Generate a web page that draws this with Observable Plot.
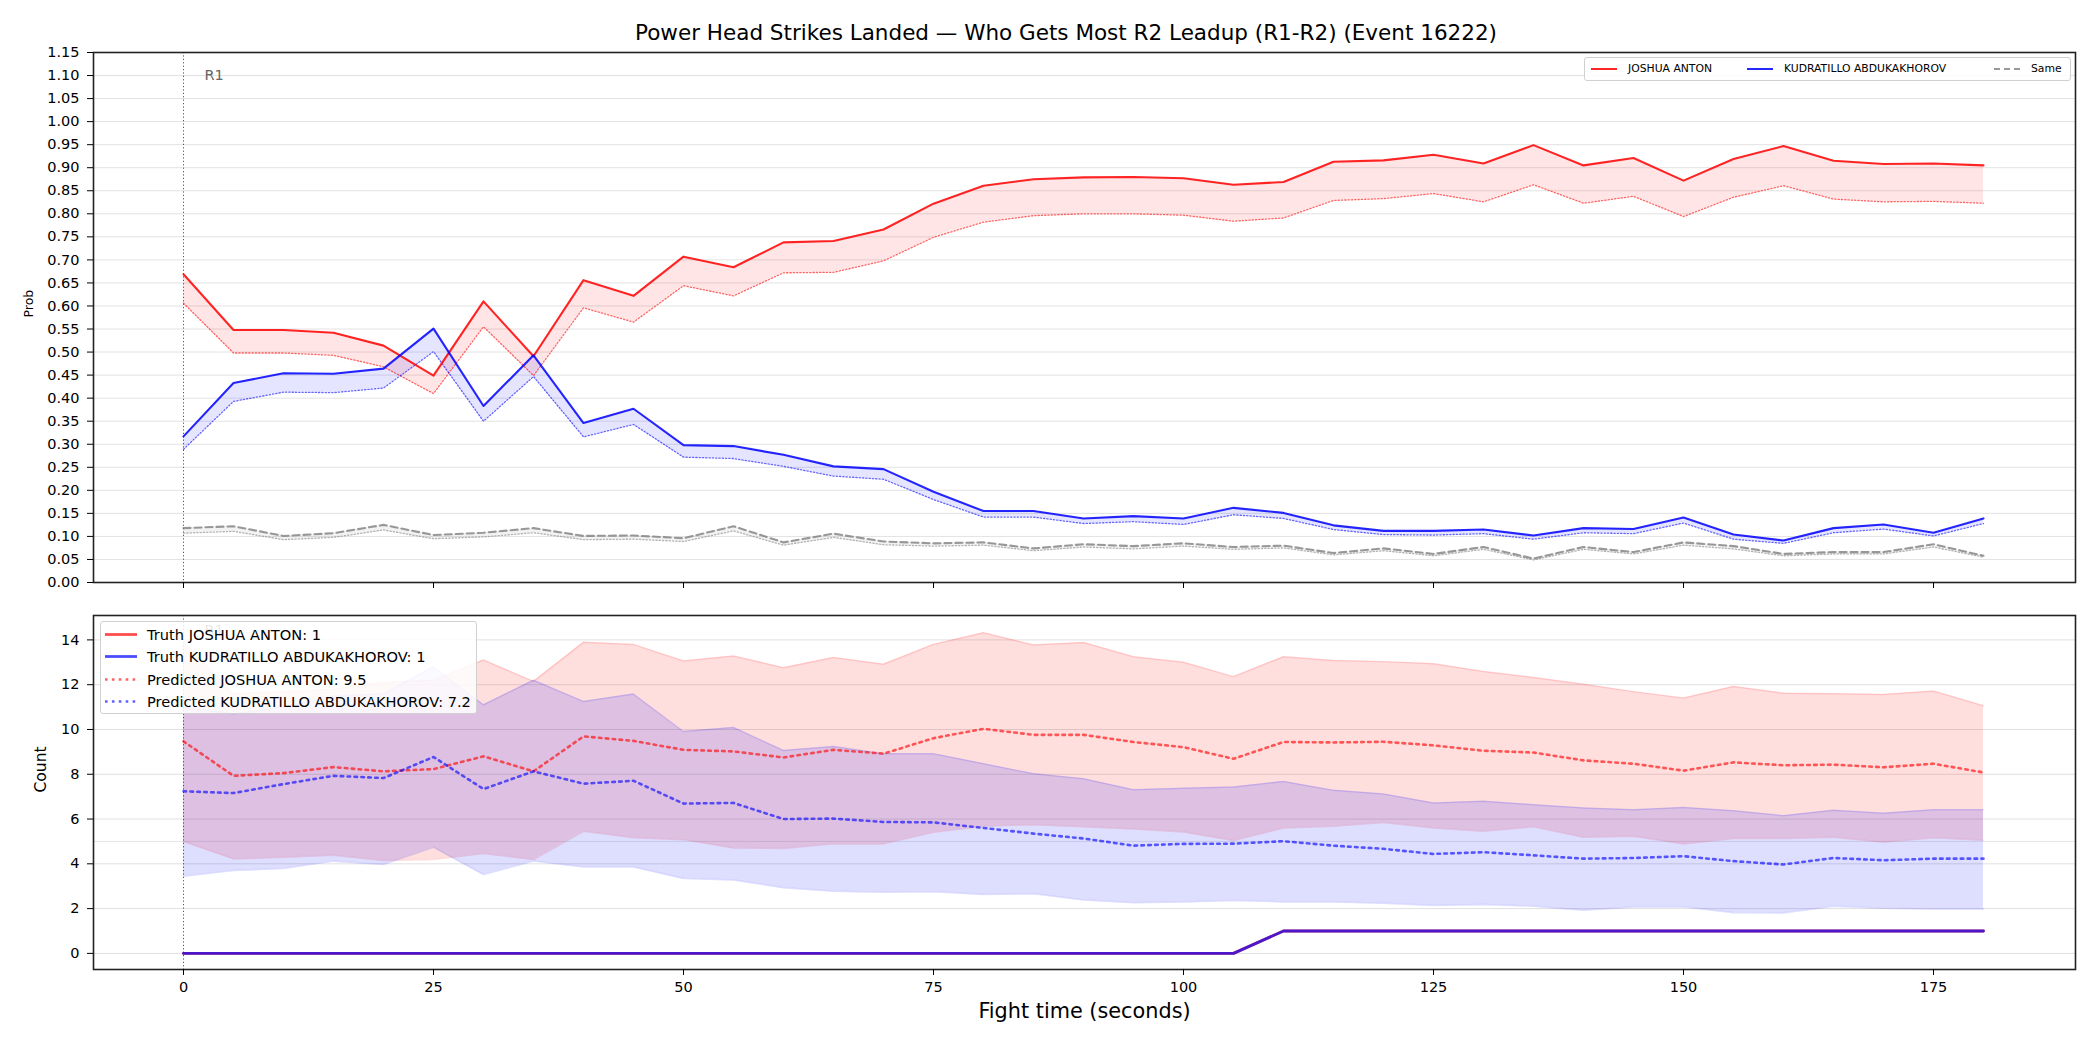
<!DOCTYPE html>
<html>
<head>
<meta charset="utf-8">
<script src="https://cdn.jsdelivr.net/npm/d3@7"></script>
<script src="https://cdn.jsdelivr.net/npm/@observablehq/plot@0.6"></script>
<style>
  html, body { margin: 0; padding: 0; background: #fff; }
  #wrap { position: relative; width: 2100px; height: 1050px; font-family: "DejaVu Sans", sans-serif; color: #000; overflow: hidden; }
  #title { position: absolute; left: 566px; width: 1000px; top: 20px; text-align: center; font-size: 21.5px; white-space: nowrap; }
  .panel { position: absolute; left: 0; }
  .legend { position: absolute; background: rgba(255,255,255,0.85); border: 1.5px solid #d0d0d0; border-radius: 3px; box-sizing: border-box; }
  .item { position: absolute; white-space: nowrap; }
  .item svg { position: absolute; left: 0; top: 0; }
</style>
</head>
<body>
<div id="wrap">
  <div id="title">Power Head Strikes Landed — Who Gets Most R2 Leadup (R1-R2) (Event 16222)</div>
  <div id="topPanel" class="panel" style="top:40px"></div>
  <div id="bottomPanel" class="panel" style="top:600px"></div>
</div>
<script>
// ---------- data ----------
const times = [0,5,10,15,20,25,30,35,40,45,50,55,60,65,70,75,80,85,90,95,100,105,110,115,120,125,130,135,140,145,150,155,160,165,170,175,180];

const nameA = "JOSHUA ANTON";
const nameB = "KUDRATILLO ABDUKAKHOROV";

// top panel: probabilities (truth-based solid, predicted dotted)
const probA = [0.669,0.548,0.548,0.542,0.514,0.449,0.610,0.491,0.656,0.622,0.707,0.684,0.738,0.741,0.766,0.822,0.861,0.875,0.879,0.880,0.877,0.863,0.869,0.913,0.916,0.928,0.909,0.949,0.905,0.921,0.872,0.919,0.947,0.915,0.908,0.909,0.905];
const predProbA = [0.606,0.498,0.498,0.493,0.468,0.410,0.555,0.449,0.596,0.565,0.644,0.622,0.672,0.673,0.698,0.749,0.782,0.796,0.800,0.800,0.797,0.784,0.791,0.829,0.833,0.844,0.826,0.863,0.823,0.838,0.794,0.836,0.861,0.832,0.826,0.827,0.823];
const probB = [0.317,0.433,0.454,0.453,0.464,0.551,0.383,0.493,0.346,0.377,0.298,0.296,0.277,0.252,0.246,0.197,0.155,0.155,0.139,0.144,0.139,0.162,0.151,0.124,0.112,0.112,0.115,0.102,0.118,0.116,0.141,0.104,0.091,0.118,0.126,0.108,0.139];
const predProbB = [0.289,0.393,0.413,0.412,0.422,0.501,0.350,0.447,0.316,0.343,0.272,0.269,0.252,0.231,0.224,0.180,0.142,0.142,0.128,0.132,0.126,0.147,0.139,0.115,0.104,0.103,0.106,0.094,0.108,0.106,0.129,0.094,0.085,0.108,0.116,0.101,0.128];
const probSame = [0.118,0.122,0.101,0.107,0.125,0.103,0.108,0.118,0.101,0.102,0.096,0.122,0.087,0.106,0.089,0.085,0.087,0.074,0.083,0.079,0.085,0.077,0.080,0.064,0.074,0.062,0.077,0.052,0.077,0.066,0.087,0.079,0.062,0.066,0.066,0.083,0.058];
const predProbSame = [0.107,0.111,0.093,0.098,0.114,0.095,0.099,0.108,0.093,0.094,0.089,0.112,0.081,0.098,0.082,0.079,0.081,0.069,0.077,0.073,0.079,0.072,0.075,0.060,0.069,0.058,0.072,0.049,0.072,0.062,0.081,0.073,0.058,0.062,0.062,0.077,0.055];

// bottom panel: counts
const truthA = [0,0,0,0,0,0,0,0,0,0,0,0,0,0,0,0,0,0,0,0,0,0,1,1,1,1,1,1,1,1,1,1,1,1,1,1,1];
const truthB = [0,0,0,0,0,0,0,0,0,0,0,0,0,0,0,0,0,0,0,0,0,0,1,1,1,1,1,1,1,1,1,1,1,1,1,1,1];
const predA = [9.47,7.93,8.05,8.32,8.13,8.23,8.80,8.13,9.69,9.49,9.09,9.02,8.75,9.09,8.92,9.61,10.03,9.76,9.76,9.44,9.21,8.69,9.44,9.42,9.45,9.29,9.05,8.97,8.62,8.47,8.16,8.53,8.40,8.43,8.31,8.47,8.08];
const hiA = [13.9,11.6,11.7,11.8,12.1,12.2,13.1,12.15,13.89,13.80,13.06,13.28,12.76,13.21,12.91,13.80,14.32,13.77,13.88,13.25,13.0,12.36,13.25,13.08,13.03,12.94,12.59,12.32,12.02,11.69,11.40,11.92,11.62,11.60,11.56,11.72,11.06];
const loA = [5.0,4.22,4.29,4.38,4.15,4.19,4.46,4.19,5.45,5.16,5.08,4.71,4.68,4.90,4.89,5.41,5.68,5.75,5.65,5.56,5.42,5.04,5.60,5.68,5.85,5.60,5.45,5.65,5.19,5.23,4.89,5.13,5.13,5.19,4.96,5.16,5.05];
const predB = [7.24,7.16,7.56,7.93,7.83,8.77,7.34,8.13,7.58,7.71,6.69,6.72,6.00,6.02,5.87,5.85,5.60,5.35,5.13,4.81,4.89,4.90,5.01,4.81,4.67,4.44,4.52,4.38,4.23,4.26,4.34,4.12,3.97,4.26,4.16,4.23,4.23];
const hiB = [11.0,10.7,11.0,11.5,11.6,12.8,11.1,12.2,11.25,11.58,9.91,10.09,9.06,9.24,8.92,8.92,8.47,8.02,7.80,7.31,7.38,7.43,7.68,7.28,7.12,6.72,6.79,6.64,6.49,6.42,6.52,6.37,6.15,6.39,6.26,6.42,6.42];
const loB = [3.45,3.70,3.79,4.12,3.97,4.74,3.52,4.12,3.86,3.86,3.34,3.28,2.93,2.78,2.73,2.75,2.63,2.66,2.38,2.26,2.30,2.36,2.30,2.30,2.24,2.14,2.18,2.11,1.93,2.07,2.08,1.81,1.80,2.11,2.01,1.98,1.98];

const legendTotals = {truthA: 1, truthB: 1, predA: 9.5, predB: 7.2};

// tick labels
const xTicks = [0,25,50,75,100,125,150,175];
const yTicksTop = [0,0.05,0.10,0.15,0.20,0.25,0.30,0.35,0.40,0.45,0.50,0.55,0.60,0.65,0.70,0.75,0.80,0.85,0.90,0.95,1.00,1.05,1.10,1.15];
const yTicksBottom = [0,2,4,6,8,10,12,14];
const refLine = [5];
const roundMarker = [{t: 0, label: "R1"}];

// ---------- tables ----------
const rows = times.map((t, i) => ({
  t, pA: probA[i], ppA: predProbA[i], pB: probB[i], ppB: predProbB[i], pS: probSame[i], ppS: predProbSame[i],
  tA: truthA[i], tB: truthB[i], cA: predA[i], hA: hiA[i], lA: loA[i], cB: predB[i], hB: hiB[i], lB: loB[i]
}));

const RED = "#ff0000", BLUE = "#0000ff", GRAY = "#808080";
const xDomain = [-9, 189.2];
const W = 2100;
const TICK_FS = 14.5;

// ---------- top panel ----------
const topChart = Plot.plot({
  width: W, height: 570,
  marginTop: 12, marginBottom: 28, marginLeft: 93, marginRight: 25,
  style: {fontFamily: "DejaVu Sans, sans-serif", fontSize: TICK_FS + "px", background: "transparent", color: "#000"},
  x: {domain: xDomain, label: null},
  y: {domain: [0, 1.15], label: null},
  marks: [
    Plot.gridY(yTicksTop, {stroke: "#e2e2e2", strokeOpacity: 1, strokeWidth: 1}),
    Plot.ruleX(roundMarker, {x: "t", stroke: "#555", strokeWidth: 1, strokeDasharray: "1.2,2.2"}),
    Plot.text(roundMarker, {x: "t", y: 1.10, text: "label", dx: 21, textAnchor: "start", fill: "#666", fontSize: 14.5}),
    Plot.areaY(rows, {x: "t", y1: "ppA", y2: "pA", fill: RED, fillOpacity: 0.1}),
    Plot.areaY(rows, {x: "t", y1: "ppB", y2: "pB", fill: BLUE, fillOpacity: 0.1}),
    Plot.areaY(rows, {x: "t", y1: "ppS", y2: "pS", fill: GRAY, fillOpacity: 0.1}),
    Plot.lineY(rows, {x: "t", y: "ppA", stroke: RED, strokeOpacity: 0.6, strokeWidth: 1.3, strokeDasharray: "1.3,2"}),
    Plot.lineY(rows, {x: "t", y: "ppB", stroke: BLUE, strokeOpacity: 0.6, strokeWidth: 1.3, strokeDasharray: "1.3,2"}),
    Plot.lineY(rows, {x: "t", y: "ppS", stroke: GRAY, strokeOpacity: 0.6, strokeWidth: 1.3, strokeDasharray: "1.3,2"}),
    Plot.lineY(rows, {x: "t", y: "pA", stroke: RED, strokeOpacity: 0.85, strokeWidth: 2.1}),
    Plot.lineY(rows, {x: "t", y: "pB", stroke: BLUE, strokeOpacity: 0.85, strokeWidth: 2.1}),
    Plot.lineY(rows, {x: "t", y: "pS", stroke: GRAY, strokeOpacity: 0.8, strokeWidth: 2.1, strokeDasharray: "7,4"}),
    Plot.frame({stroke: "#222", strokeWidth: 1.6}),
    Plot.axisY(yTicksTop, {tickFormat: d => d.toFixed(2), tickSize: 6, tickPadding: 8, fontSize: TICK_FS}),
    Plot.axisX(xTicks, {tickFormat: () => "", tickSize: 6}),
    Plot.text(["Prob"], {frameAnchor: "left", dx: -65, rotate: -90, text: d => d, fontSize: 12.5})
  ]
});
document.getElementById("topPanel").appendChild(topChart);

// ---------- bottom panel ----------
const bottomChart = Plot.plot({
  width: W, height: 450,
  marginTop: 15, marginBottom: 81, marginLeft: 93, marginRight: 25,
  style: {fontFamily: "DejaVu Sans, sans-serif", fontSize: TICK_FS + "px", background: "transparent", color: "#000"},
  x: {domain: xDomain, label: null},
  y: {domain: [-0.72, 15.09], label: null},
  marks: [
    Plot.gridY(yTicksBottom, {stroke: "#e0e0e0", strokeOpacity: 1, strokeWidth: 1}),
    Plot.ruleY(refLine, {stroke: "#e6e6e6", strokeWidth: 1}),
    Plot.ruleX(roundMarker, {x: "t", stroke: "#555", strokeWidth: 1, strokeDasharray: "1.2,2.2"}),
    Plot.text(roundMarker, {x: "t", y: 14.44, text: "label", dx: 21, textAnchor: "start", fill: "#666", fontSize: 14.5}),
    Plot.areaY(rows, {x: "t", y1: "lA", y2: "hA", fill: RED, fillOpacity: 0.13}),
    Plot.lineY(rows, {x: "t", y: "lA", stroke: RED, strokeOpacity: 0.13, strokeWidth: 1.5}),
    Plot.lineY(rows, {x: "t", y: "hA", stroke: RED, strokeOpacity: 0.13, strokeWidth: 1.5}),
    Plot.areaY(rows, {x: "t", y1: "lB", y2: "hB", fill: BLUE, fillOpacity: 0.13}),
    Plot.lineY(rows, {x: "t", y: "lB", stroke: BLUE, strokeOpacity: 0.13, strokeWidth: 1.5}),
    Plot.lineY(rows, {x: "t", y: "hB", stroke: BLUE, strokeOpacity: 0.13, strokeWidth: 1.5}),
    Plot.lineY(rows, {x: "t", y: "cA", stroke: RED, strokeOpacity: 0.62, strokeWidth: 2.6, strokeDasharray: "2.6,4.3"}),
    Plot.lineY(rows, {x: "t", y: "cB", stroke: BLUE, strokeOpacity: 0.62, strokeWidth: 2.6, strokeDasharray: "2.6,4.3"}),
    Plot.lineY(rows, {x: "t", y: "tA", stroke: RED, strokeOpacity: 0.7, strokeWidth: 2.8}),
    Plot.lineY(rows, {x: "t", y: "tB", stroke: BLUE, strokeOpacity: 0.7, strokeWidth: 2.8}),
    Plot.frame({stroke: "#222", strokeWidth: 1.6}),
    Plot.axisY(yTicksBottom, {tickSize: 6, tickPadding: 8, fontSize: TICK_FS}),
    Plot.axisX(xTicks, {tickSize: 6, tickPadding: 6, fontSize: TICK_FS}),
    Plot.text(["Count"], {frameAnchor: "left", dx: -52, rotate: -90, text: d => d, fontSize: 15.5}),
    Plot.text(["Fight time (seconds)"], {frameAnchor: "bottom", dy: 48, text: d => d, fontSize: 20.8})
  ]
});
document.getElementById("bottomPanel").appendChild(bottomChart);

// ---------- legends ----------
function swatch(color, opacity, width, dash, len, h) {
  return `<svg width="${len}" height="${h}"><line x1="0" x2="${len}" y1="${h/2}" y2="${h/2}" stroke="${color}" stroke-opacity="${opacity}" stroke-width="${width}" ${dash ? `stroke-dasharray="${dash}"` : ""}/></svg>`;
}
const wrap = document.getElementById("wrap");

// top legend
const lt = document.createElement("div");
lt.className = "legend";
lt.style.cssText = "left:1584px;top:57px;width:487px;height:24px;font-size:10.8px;";
const topItems = [
  {x: 6, label: nameA, color: RED, op: 0.85, dash: null},
  {x: 162, label: nameB, color: BLUE, op: 0.85, dash: null},
  {x: 409, label: "Same", color: GRAY, op: 0.8, dash: "6,4"}
];
topItems.forEach(it => {
  const d = document.createElement("div");
  d.className = "item";
  d.style.cssText = `left:${it.x}px;top:3px;height:16px;padding-left:37px;line-height:16px;`;
  d.innerHTML = swatch(it.color, it.op, 2, it.dash, 26, 16) + `<span>${it.label}</span>`;
  lt.appendChild(d);
});
wrap.appendChild(lt);

// bottom legend
const lb = document.createElement("div");
lb.className = "legend";
lb.style.cssText = "left:100px;top:621px;width:377px;height:93px;font-size:14.6px;";
const botItems = [
  {label: `Truth ${nameA}: ${legendTotals.truthA}`, color: RED, op: 0.7, w: 2.8, dash: null},
  {label: `Truth ${nameB}: ${legendTotals.truthB}`, color: BLUE, op: 0.7, w: 2.8, dash: null},
  {label: `Predicted ${nameA}: ${legendTotals.predA}`, color: RED, op: 0.62, w: 2.6, dash: "2.6,4.3"},
  {label: `Predicted ${nameB}: ${legendTotals.predB}`, color: BLUE, op: 0.62, w: 2.6, dash: "2.6,4.3"}
];
botItems.forEach((it, i) => {
  const d = document.createElement("div");
  d.className = "item";
  d.style.cssText = `left:4px;top:${2 + i * 22.3}px;height:21px;padding-left:42px;line-height:21px;`;
  d.innerHTML = swatch(it.color, it.op, it.w, it.dash, 32, 21) + `<span>${it.label}</span>`;
  lb.appendChild(d);
});
wrap.appendChild(lb);
</script>
</body>
</html>
